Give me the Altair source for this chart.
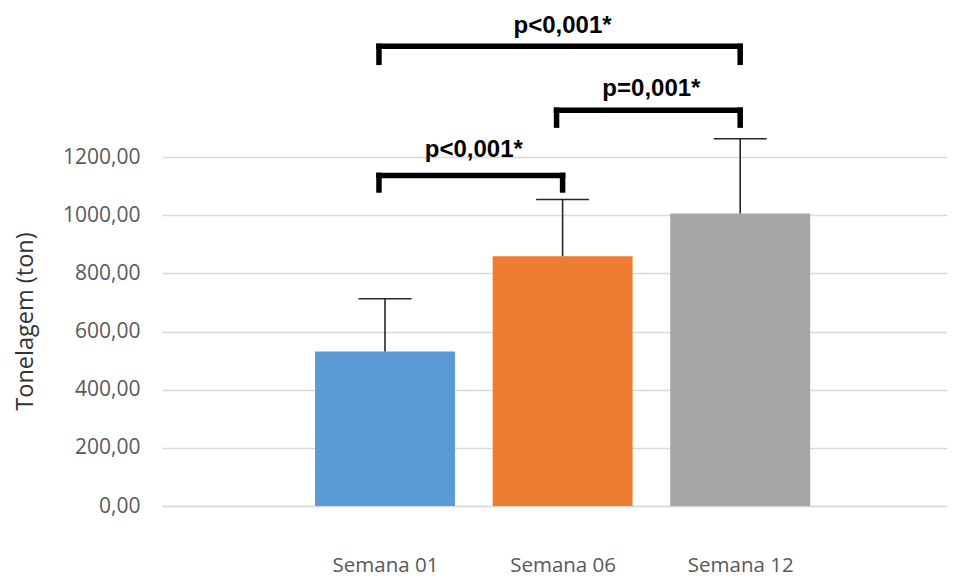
import json
import altair as alt
import pandas as pd

# ---- data ----
semanas = ["Semana 01", "Semana 06", "Semana 12"]
medias = [531, 859, 1006]
desvios = [182, 195, 257]
cores = ["#5B9BD5", "#ED7D31", "#A5A5A5"]

y_ticks = [0, 200, 400, 600, 800, 1000, 1200]

bracket_inicio = ["Semana 01", "Semana 06", "Semana 01"]
bracket_fim = ["Semana 06", "Semana 12", "Semana 12"]
bracket_topo = [1137, 1361, 1581]
bracket_perna = [1087, 1310, 1526]
bracket_rotulo = ["p<0,001*", "p=0,001*", "p<0,001*"]
rotulo_y = [1201, 1411, 1626]

# ---- tables ----
bars = pd.DataFrame({
    "semana": semanas,
    "idx": [semanas.index(s) + 1 for s in semanas],
    "media": medias,
    "sd": desvios,
})
brk = pd.DataFrame({
    "ini": [semanas.index(s) + 1 for s in bracket_inicio],
    "fim": [semanas.index(s) + 1 for s in bracket_fim],
    "topo": bracket_topo,
    "perna": bracket_perna,
    "rotulo": bracket_rotulo,
    "ly": rotulo_y,
})

HALF_BAR = 0.394
HALF_CAP = 0.149
LEG_OFF = 0.034

xscale = alt.Scale(domain=[-0.2556, 4.1644], nice=False, zero=False, padding=0)
yscale = alt.Scale(domain=[0, 1706], nice=False, zero=True, padding=0)

label_font = "Open Sans"
xaxis = alt.Axis(
    values=[1, 2, 3],
    labelExpr=f"{json.dumps(semanas)}[datum.value - 1]",
    grid=False, ticks=False, tickSize=0,
    domain=True, domainColor="#D9D9D9", domainWidth=1.5,
    labelFont=label_font, labelFontSize=20.5, labelColor="#595959",
    labelBaseline="alphabetic", labelPadding=65, title=None,
)
yaxis = alt.Axis(
    values=y_ticks,
    labelExpr="replace(format(datum.value, '.2f'), '.', ',')",
    grid=True, gridColor="#D9D9D9", gridWidth=1.5,
    domain=False, ticks=False, tickSize=0,
    labelFont=label_font, labelFontSize=21, labelColor="#595959", labelPadding=22,
    title="Tonelagem (ton)", titleFont=label_font, titleFontSize=23.5,
    titleFontWeight="normal", titleColor="#333333",
    titleAngle=270, titleX=-137, titleY=311, titleAlign="center", titleBaseline="middle",
)

base_b = alt.Chart(bars).transform_calculate(
    x0=f"datum.idx - {HALF_BAR}", x1=f"datum.idx + {HALF_BAR}",
    c0=f"datum.idx - {HALF_CAP}", c1=f"datum.idx + {HALF_CAP}",
    topo="datum.media + datum.sd",
    base="0",
)

bar_layer = base_b.mark_bar().encode(
    x=alt.X("x0:Q", scale=xscale, axis=xaxis),
    x2="x1:Q",
    y=alt.Y("media:Q", scale=yscale, axis=yaxis),
    y2="base:Q",
    color=alt.Color("semana:N", scale=alt.Scale(domain=semanas, range=cores), legend=None),
)
stem = base_b.mark_rule(color="#262626", strokeWidth=1.6).encode(
    x="idx:Q", y="media:Q", y2="topo:Q"
)
cap = base_b.mark_rule(color="#262626", strokeWidth=1.6).encode(
    x="c0:Q", x2="c1:Q", y="topo:Q"
)

base_k = alt.Chart(brk).transform_calculate(
    bl=f"datum.ini - {LEG_OFF}", br="datum.fim", mid="(datum.ini + datum.fim) / 2",
)
bw = 5.5
horiz = base_k.mark_rule(color="black", strokeWidth=bw, strokeCap="square").encode(
    x="bl:Q", x2="br:Q", y="topo:Q"
)
leg_l = base_k.mark_rule(color="black", strokeWidth=bw, strokeCap="square").encode(
    x="bl:Q", y="perna:Q", y2="topo:Q"
)
leg_r = base_k.mark_rule(color="black", strokeWidth=bw, strokeCap="square").encode(
    x="br:Q", y="perna:Q", y2="topo:Q"
)
txt = base_k.mark_text(
    font="Liberation Sans", fontWeight="bold", fontSize=24, color="black",
    baseline="alphabetic", align="center",
).encode(x="mid:Q", y="ly:Q", text="rotulo:N")

chart = alt.layer(bar_layer, stem, cap, horiz, leg_l, leg_r, txt).properties(
    width=785, height=496,
    padding={"left": 154, "top": 2, "right": 0, "bottom": 74},
    autosize=alt.AutoSizeParams(type="none"),
    background="white",
).configure_view(stroke=None)

chart.save("out.html", embed_options={"renderer": "svg", "actions": False})
